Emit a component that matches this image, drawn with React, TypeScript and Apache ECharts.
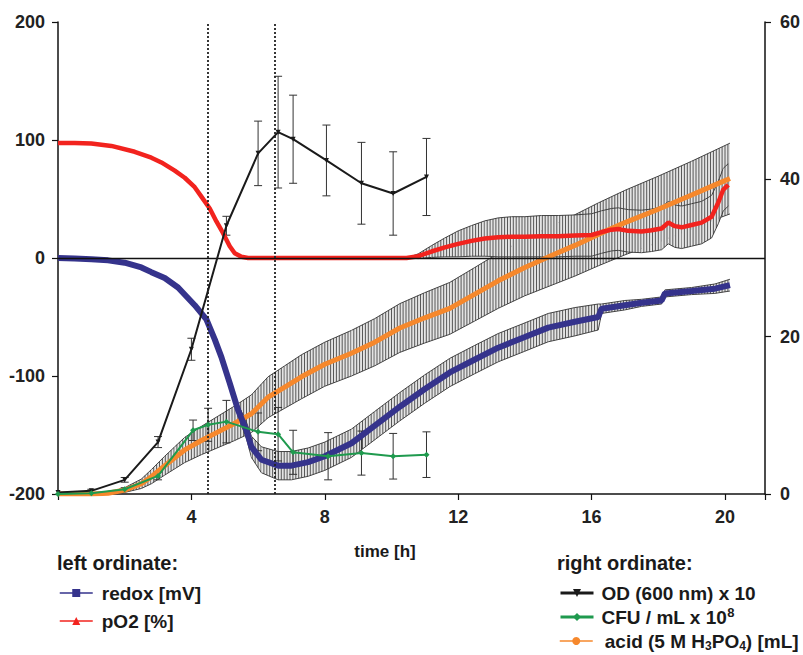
import React, { useEffect, useRef } from "react";
import * as echarts from "echarts";

// ---------- data ----------
const redoxTime = [0, 0.5, 1, 1.5, 2, 2.5, 2.8, 3.2, 3.6, 4.1, 4.45, 4.7, 4.9, 5.15, 5.4, 5.65, 5.8, 6.1, 6.6, 7.0, 7.5, 8.0, 8.8, 9.5, 10.25, 11, 11.75, 12.5, 13.2, 14, 14.7, 15.5, 16.2, 16.3, 17, 17.5, 18.1, 18.2, 19, 19.7, 20.15];
const redoxValue = [0, -0.5, -1, -2, -4, -8, -12, -17, -25, -40, -52, -69, -84, -106, -129, -146, -160, -171, -176, -176, -173, -168, -157, -142, -126, -111, -97, -86, -76, -67, -59, -54, -50, -43, -40, -38, -36, -30, -28, -26, -23];
const redoxError = [0, 0, 0, 0, 0, 0, 0, 0, 0, 0, 0, 0, 0, 3, 5, 7, 9, 11, 12, 12, 12, 12, 12, 12, 12, 12, 12, 12, 12, 12, 12, 12, 11, 4, 4, 3, 3, 3, 3, 4, 5];

const pO2Time = [0, 0.5, 1, 1.6, 2.3, 2.8, 3.1, 3.5, 3.8, 4.1, 4.3, 4.55, 4.75, 4.95, 5.15, 5.3, 5.5, 5.7, 10.45, 10.8, 11.2, 11.6, 12, 12.4, 12.8, 13.2, 13.6, 14, 14.5, 15, 15.5, 16, 16.3, 16.6, 16.8, 17.1, 17.5, 17.8, 18.1, 18.3, 18.5, 18.7, 19, 19.3, 19.6, 19.8, 19.95, 20.1];
const pO2Value = [97.5, 97.5, 97, 95, 90, 85, 81, 74, 68, 60, 52, 42, 31, 21, 10, 4, 1, 0, 0, 1.5, 5.5, 9, 12, 14.5, 16.5, 17.5, 18, 18, 18.5, 18.5, 19, 19.5, 22, 24, 24.5, 23, 22.5, 23.5, 25, 30, 27, 26, 28, 30, 35, 47, 58, 62];
const pO2Error = [0, 0, 0, 0, 0, 0, 0, 0, 0, 0, 0, 0, 0, 0, 0, 0, 0, 0, 0, 2, 5, 8, 11, 13, 15, 16.5, 17, 17, 17.5, 17.5, 17.5, 18, 18, 18, 18, 18, 18, 18, 18, 18, 18, 18, 18, 18, 18, 18, 18, 18];

const acidTime = [0, 0.5, 1, 1.5, 2, 2.5, 2.8, 3.2, 3.5, 3.8, 4.3, 4.8, 5.3, 5.8, 6.3, 6.8, 7.3, 8, 8.8, 9.5, 10.25, 11, 11.75, 12.5, 13.2, 14, 14.9, 15.5, 16.2, 17, 18, 19, 19.7, 20.15];
const acidValue = [0, 0, 0, 0.1, 0.5, 1.3, 2.2, 3.6, 4.6, 5.6, 6.8, 7.9, 9.0, 10.2, 12.3, 13.6, 14.9, 16.5, 17.9, 19.3, 21.1, 22.4, 23.6, 25.4, 27.1, 28.8, 30.5, 31.6, 33.0, 34.5, 36.2, 38.0, 39.3, 40.1];
const acidError = [0, 0, 0, 0.1, 0.3, 0.6, 0.9, 1.2, 1.4, 1.6, 1.8, 2.0, 2.2, 2.4, 2.6, 2.7, 2.8, 2.8, 2.9, 3.0, 3.1, 3.2, 3.3, 3.4, 3.5, 3.6, 3.8, 3.9, 4.0, 4.1, 4.2, 4.3, 4.4, 4.5];

const odTime = [0, 1, 2, 3, 4, 5.05, 6, 6.6, 7.05, 8.05, 9.1, 10.05, 11.05];
const odValue = [0.2, 0.4, 1.8, 6.6, 18.4, 34.1, 43.3, 46.0, 45.1, 42.4, 39.5, 38.2, 40.3];
const odError = [0, 0.2, 0.3, 0.7, 1.4, 1.2, 4.1, 7.1, 5.6, 4.5, 5.2, 5.3, 4.9];

const cfuTime = [0, 1, 2, 3, 4.05, 4.5, 5.05, 6.0, 6.6, 7.05, 8.1, 9.1, 10.05, 11.05];
const cfuValue = [0, 0.1, 0.6, 2.3, 8.1, 8.8, 9.2, 7.9, 7.6, 5.3, 4.8, 5.2, 4.8, 5.0];
const cfuError = [0, 0, 0.2, 0.5, 1.3, 2.1, 2.7, 2.4, 3.4, 2.8, 3.0, 2.8, 2.9, 2.9];

const phaseMarkers = [4.5, 6.5];
const xTicks = [4, 8, 12, 16, 20];

const NAME_REDOX = "redox [mV]";
const NAME_PO2 = "pO2 [%]";
const NAME_OD = "OD (600 nm) x 10";
const NAME_CFU = "CFU / mL x 108";
const NAME_ACID = "acid (5 M H3PO4) [mL]";

// ---------- helpers ----------
const FONT = "'Liberation Sans', Arial, sans-serif";
const pairs = (t: number[], v: number[]) => t.map((x, i) => [x, v[i]]);

function bandItems(t: number[], v: number[], e: number[]) {
  const items: number[][] = [];
  for (let i = 0; i < t.length - 1; i++) {
    if (e[i] === 0 && e[i + 1] === 0) continue;
    items.push([t[i], v[i] - e[i], v[i] + e[i], t[i + 1], v[i + 1] - e[i + 1], v[i + 1] + e[i + 1]]);
  }
  return items;
}
function barItems(t: number[], v: number[], e: number[]) {
  const items: number[][] = [];
  for (let i = 0; i < t.length; i++) if (e[i] > 0) items.push([t[i], v[i] - e[i], v[i] + e[i]]);
  return items;
}

const HATCH = 2.9;
function renderBand(_params: any, api: any) {
  const a0 = api.coord([api.value(0), api.value(1)]);
  const b0 = api.coord([api.value(0), api.value(2)]);
  const a1 = api.coord([api.value(3), api.value(4)]);
  const b1 = api.coord([api.value(3), api.value(5)]);
  const children: any[] = [];
  const x0 = a0[0];
  const x1 = a1[0];
  const stroke = "#333333";
  children.push({
    type: "polygon",
    shape: { points: [a0, a1, b1, b0] },
    style: { fill: "#e4e4e4", stroke: "none" },
  });
  for (let x = Math.ceil(x0 / HATCH) * HATCH; x < x1; x += HATCH) {
    const f = (x - x0) / (x1 - x0);
    const lo = a0[1] + f * (a1[1] - a0[1]);
    const hi = b0[1] + f * (b1[1] - b0[1]);
    children.push({ type: "line", shape: { x1: x, y1: lo, x2: x, y2: hi }, style: { stroke, lineWidth: 0.8 } });
  }
  children.push({ type: "line", shape: { x1: a0[0], y1: a0[1], x2: a1[0], y2: a1[1] }, style: { stroke, lineWidth: 0.9 } });
  children.push({ type: "line", shape: { x1: b0[0], y1: b0[1], x2: b1[0], y2: b1[1] }, style: { stroke, lineWidth: 0.9 } });
  return { type: "group", children };
}
function renderBar(_params: any, api: any) {
  const lo = api.coord([api.value(0), api.value(1)]);
  const hi = api.coord([api.value(0), api.value(2)]);
  const w = 4;
  const style = { stroke: "#333", lineWidth: 1 };
  return {
    type: "group",
    children: [
      { type: "line", shape: { x1: lo[0], y1: lo[1], x2: hi[0], y2: hi[1] }, style },
      { type: "line", shape: { x1: lo[0] - w, y1: lo[1], x2: lo[0] + w, y2: lo[1] }, style },
      { type: "line", shape: { x1: hi[0] - w, y1: hi[1], x2: hi[0] + w, y2: hi[1] }, style },
    ],
  };
}

const COLORS = {
  redox: "#35338c",
  pO2: "#f2231e",
  acid: "#f6882c",
  od: "#1a1a1a",
  cfu: "#1f9a4e",
};

const TEXT_COLOR = "#1a1a1a";
const axisLabelStyle = { fontFamily: FONT, fontWeight: "bold" as const, fontSize: 18, color: "#222" };
const richStyles = {
  sub: { fontFamily: FONT, fontWeight: "bold" as const, fontSize: 12, lineHeight: 12, color: TEXT_COLOR, padding: [9, 0, 0, 0] },
  sup: { fontFamily: FONT, fontWeight: "bold" as const, fontSize: 13, lineHeight: 13, color: TEXT_COLOR, padding: [0, 0, 9, 0] },
};

function legendItem(name: string, left: number, centerY: number, lineWidth: number, textPad: number) {
  return {
    data: [name],
    orient: "vertical",
    left,
    top: centerY - 11,
    padding: 0,
    itemWidth: 33,
    itemHeight: 10,
    selectedMode: false,
    lineStyle: { width: lineWidth },
    formatter: (n: string) =>
      n === NAME_CFU ? "CFU / mL x 10{sup|8}" : n === NAME_ACID ? "acid (5 M H{sub|3}PO{sub|4}) [mL]" : n,
    textStyle: {
      fontFamily: FONT,
      fontWeight: "bold",
      fontSize: 19,
      lineHeight: 22,
      color: TEXT_COLOR,
      padding: [0, 0, 0, textPad],
      rich: richStyles,
    },
  };
}

export default function App() {
  const ref = useRef<HTMLDivElement>(null);
  useEffect(() => {
    if (!ref.current) return;
    const chart = echarts.init(ref.current, undefined, { renderer: "svg" });
    const axisLine = { show: true, onZero: false, lineStyle: { color: "#111", width: 1.5 } };
    const axisTick = { show: true, length: 6, lineStyle: { color: "#111", width: 1.2 } };
    const option: any = {
      animation: false,
      backgroundColor: "#ffffff",
      grid: { left: 58, right: 35, top: 22, bottom: 161, containLabel: false },
      xAxis: {
        type: "value",
        min: 0,
        max: 21.2,
        interval: 4,
        axisLine,
        axisTick,
        axisLabel: {
          ...axisLabelStyle,
          margin: 14,
          formatter: (v: number) => (xTicks.indexOf(v) >= 0 ? String(v) : ""),
        },
        splitLine: { show: false },
      },
      yAxis: [
        {
          type: "value",
          min: -200,
          max: 200,
          interval: 100,
          position: "left",
          axisLine,
          axisTick,
          axisLabel: { ...axisLabelStyle, margin: 13 },
          splitLine: { show: false },
        },
        {
          type: "value",
          min: 0,
          max: 60,
          interval: 20,
          position: "right",
          axisLine,
          axisTick,
          axisLabel: { ...axisLabelStyle, margin: 15 },
          splitLine: { show: false },
        },
      ],
      legend: [
        legendItem(NAME_REDOX, 59, 593, 1.5, 4),
        legendItem(NAME_PO2, 59, 621, 1.5, 4),
        legendItem(NAME_OD, 559, 593, 3, 3),
        legendItem(NAME_CFU, 559, 617, 3, 3),
        legendItem(NAME_ACID, 559, 641, 1.5, 7),
      ],
      graphic: [
        {
          type: "text",
          x: 57,
          y: 563,
          style: { text: "left ordinate:", font: `bold 20px ${FONT}`, fill: TEXT_COLOR, verticalAlign: "middle" },
        },
        {
          type: "text",
          x: 557,
          y: 563,
          style: { text: "right ordinate:", font: `bold 20px ${FONT}`, fill: TEXT_COLOR, verticalAlign: "middle" },
        },
        {
          type: "text",
          x: 385,
          y: 551,
          style: { text: "time [h]", font: `bold 17px ${FONT}`, fill: TEXT_COLOR, align: "center", verticalAlign: "middle" },
        },
      ],
      series: [
        {
          type: "custom",
          name: "acid error",
          xAxisIndex: 0,
          yAxisIndex: 1,
          renderItem: renderBand,
          encode: { x: [0, 3], y: [1, 2, 4, 5] },
          data: bandItems(acidTime, acidValue, acidError),
          z: 1,
          silent: true,
        },
        {
          type: "custom",
          name: "pO2 error",
          xAxisIndex: 0,
          yAxisIndex: 0,
          renderItem: renderBand,
          encode: { x: [0, 3], y: [1, 2, 4, 5] },
          data: bandItems(pO2Time, pO2Value, pO2Error),
          z: 1,
          silent: true,
        },
        {
          type: "custom",
          name: "redox error",
          xAxisIndex: 0,
          yAxisIndex: 0,
          renderItem: renderBand,
          encode: { x: [0, 3], y: [1, 2, 4, 5] },
          data: bandItems(redoxTime, redoxValue, redoxError),
          z: 1,
          silent: true,
        },
        {
          type: "custom",
          name: "OD error",
          xAxisIndex: 0,
          yAxisIndex: 1,
          renderItem: renderBar,
          encode: { x: 0, y: [1, 2] },
          data: barItems(odTime, odValue, odError),
          z: 2,
          silent: true,
        },
        {
          type: "custom",
          name: "CFU error",
          xAxisIndex: 0,
          yAxisIndex: 1,
          renderItem: renderBar,
          encode: { x: 0, y: [1, 2] },
          data: barItems(cfuTime, cfuValue, cfuError),
          z: 2,
          silent: true,
        },
        {
          type: "line",
          name: NAME_ACID,
          yAxisIndex: 1,
          data: pairs(acidTime, acidValue),
          color: COLORS.acid,
          symbol: "circle",
          symbolSize: 8,
          showSymbol: false,
          lineStyle: { width: 5, color: COLORS.acid },
          z: 3,
        },
        {
          type: "line",
          name: NAME_REDOX,
          yAxisIndex: 0,
          data: pairs(redoxTime, redoxValue),
          color: COLORS.redox,
          symbol: "rect",
          symbolSize: 8,
          showSymbol: false,
          lineStyle: { width: 6, color: COLORS.redox },
          z: 4,
          markLine: {
            silent: true,
            symbol: "none",
            label: { show: false },
            data: [
              { yAxis: 0, lineStyle: { type: "solid", color: "#111", width: 1.3 } },
              ...phaseMarkers.map((x) => ({ xAxis: x, lineStyle: { type: [2, 2], color: "#222", width: 1.8 } })),
            ],
          },
        },
        {
          type: "line",
          name: NAME_PO2,
          yAxisIndex: 0,
          data: pairs(pO2Time, pO2Value),
          color: COLORS.pO2,
          symbol: "triangle",
          symbolSize: 8,
          showSymbol: false,
          lineStyle: { width: 4.5, color: COLORS.pO2 },
          z: 4,
        },
        {
          type: "line",
          name: NAME_OD,
          yAxisIndex: 1,
          data: pairs(odTime, odValue),
          color: COLORS.od,
          symbol: "path://M0,0 L10,0 L5,10 Z",
          symbolSize: 5,
          showSymbol: true,
          itemStyle: { color: COLORS.od },
          lineStyle: { width: 2, color: COLORS.od },
          z: 5,
        },
        {
          type: "line",
          name: NAME_CFU,
          yAxisIndex: 1,
          data: pairs(cfuTime, cfuValue),
          color: COLORS.cfu,
          symbol: "diamond",
          symbolSize: 6,
          showSymbol: true,
          itemStyle: { color: COLORS.cfu },
          lineStyle: { width: 2, color: COLORS.cfu },
          z: 5,
        },
      ],
    };
    chart.setOption(option);
    return () => chart.dispose();
  }, []);
  return <div ref={ref} style={{ position: "fixed", left: 0, top: 0, width: 803, height: 655 }} />;
}
